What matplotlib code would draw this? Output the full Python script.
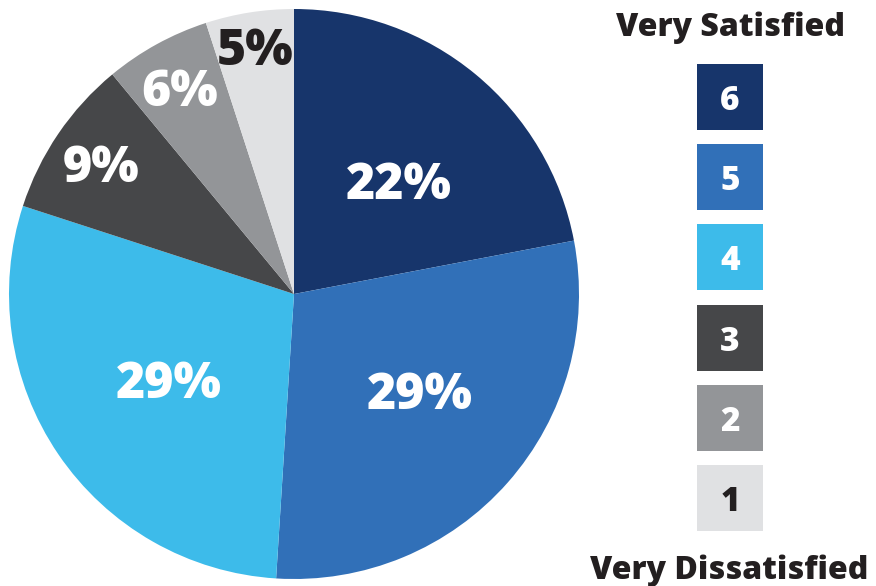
import numpy as np
import matplotlib.pyplot as plt
from matplotlib.patches import Rectangle

# satisfaction share per rating, clockwise from 12 o'clock
ratings = [6, 5, 4, 3, 2, 1]
shares = [22, 29, 29, 9, 6, 5]
colors = ["#17356b", "#3170b8", "#3dbbea", "#464749", "#939598", "#e0e1e3"]
label_colors = ["white", "white", "white", "white", "white", "#231f20"]
# label placement: fraction of radius and nudge (degrees) off the wedge middle
label_dist = [0.545, 0.555, 0.53, 0.82, 0.83, 0.88]
label_nudge = [3, -4, 0, 0, 0, 0]
top_label = "Very Satisfied"
bottom_label = "Very Dissatisfied"

W, H = 876, 586
fig = plt.figure(figsize=(W / 100, H / 100), dpi=100)
plt.rcParams["font.family"] = ["Open Sans", "DejaVu Sans"]

# pie
cx, cy, r = 294, 294, 285
ax = fig.add_axes([(cx - r) / W, (H - cy - r) / H, 2 * r / W, 2 * r / H])
wedges, _ = ax.pie(shares, colors=colors, startangle=90, counterclock=False,
                   radius=1, wedgeprops=dict(linewidth=0))
ax.set_xlim(-1, 1)
ax.set_ylim(-1, 1)
ax.set_aspect("equal")
ax.axis("off")

# percentage labels inside each wedge
cum = np.cumsum([0] + shares)
total = sum(shares)
for i, s in enumerate(shares):
    mid = (cum[i] + s / 2) / total * 2 * np.pi + np.radians(label_nudge[i])
    x = label_dist[i] * np.sin(mid)
    y = label_dist[i] * np.cos(mid)
    ax.text(x, y, f"{s}%", ha="center", va="center_baseline", fontsize=36,
            fontweight="heavy", color=label_colors[i])

# rating key on the right, in pixel coordinates
kx = fig.add_axes([0, 0, 1, 1])
kx.set_xlim(0, W)
kx.set_ylim(H, 0)
kx.axis("off")
box_x, box_w, box_top, step = 697, 66, 64, 80.2
for i, rating in enumerate(ratings):
    y0 = box_top + i * step
    kx.add_patch(Rectangle((box_x, y0), box_w, box_w, facecolor=colors[i],
                           edgecolor="none"))
    kx.text(box_x + box_w / 2, y0 + box_w / 2, str(rating), ha="center",
            va="center_baseline", fontsize=24, fontweight="heavy",
            color=label_colors[i])

kx.text(730, 24, top_label, ha="center", va="center_baseline", fontsize=23,
        fontweight="heavy", color="#231f20")
kx.text(729, 567, bottom_label, ha="center", va="center_baseline", fontsize=23,
        fontweight="heavy", color="#231f20")

fig.savefig("out.png", dpi=100)
